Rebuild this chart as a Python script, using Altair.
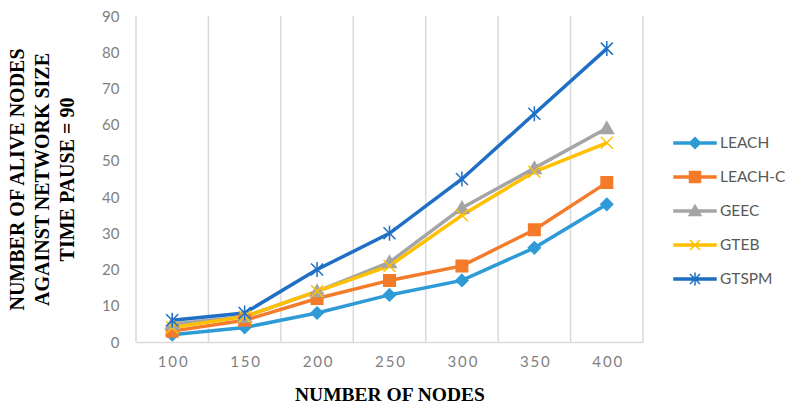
import altair as alt
import pandas as pd

# ---- data -------------------------------------------------------------
nodes = [100, 150, 200, 250, 300, 350, 400]
series = ["LEACH", "LEACH-C", "GEEC", "GTEB", "GTSPM"]
leach = [2, 4, 8, 13, 17, 26, 38]
leach_c = [3, 6, 12, 17, 21, 31, 44]
geec = [5, 7, 14, 22, 37, 48, 59]
gteb = [4, 7, 14, 21, 35, 47, 55]
gtspm = [6, 8, 20, 30, 45, 63, 81]
y_ticks = [0, 10, 20, 30, 40, 50, 60, 70, 80, 90]

colors = ["#2E9BD6", "#F47B2A", "#A5A5A5", "#FFC000", "#1F6FC5"]

# marker shapes (custom SVG paths)
marker_paths = [
    "M0,-1.2L1.2,0L0,1.2L-1.2,0Z",                          # diamond
    "M-1.15,-1.15L1.15,-1.15L1.15,1.15L-1.15,1.15Z",        # square
    "M0,-1.3L1.35,1.05L-1.35,1.05Z",                        # triangle
    "M-1.2,-1.2L1.2,1.2M-1.2,1.2L1.2,-1.2",                 # x
    "M-1.2,-1.2L1.2,1.2M-1.2,1.2L1.2,-1.2M0,-1.5L0,1.5",    # asterisk
]
legend_line = "M-2.1,-0.1L2.1,-0.1L2.1,0.1L-2.1,0.1Z"
legend_markers = [
    "M0,-0.55L0.55,0L0,0.55L-0.55,0Z",
    "M-0.55,-0.55L0.55,-0.55L0.55,0.55L-0.55,0.55Z",
    "M0,-0.6L0.6,0.45L-0.6,0.45Z",
    "M-0.5,-0.5L0.5,0.5M-0.5,0.5L0.5,-0.5",
    "M-0.5,-0.5L0.5,0.5M-0.5,0.5L0.5,-0.5M0,-0.65L0,0.65",
]
legend_paths = [legend_line + m for m in legend_markers]

values = [leach, leach_c, geec, gteb, gtspm]
rows = []
for s, vals in zip(series, values):
    for n, v in zip(nodes, vals):
        rows.append({"nodes": n, "alive": v, "series": s})
df = pd.DataFrame(rows)

step = nodes[1] - nodes[0]
bounds = [n - step / 2 for n in nodes] + [nodes[-1] + step / 2]
grid_df = pd.DataFrame({"b": bounds})

# ---- scales / axes ----------------------------------------------------
W, H = 507, 326
x_scale = alt.Scale(domain=[bounds[0], bounds[-1]], nice=False, zero=False)
y_scale = alt.Scale(domain=[0, 90], nice=False)

x_axis = alt.Axis(
    values=nodes, grid=False, ticks=False, domain=True,
    domainColor="#d9d9d9", domainWidth=1.5,
    labelFont="Lato", labelFontSize=15, labelColor="#7f7f7f", labelPadding=12,
    labelExpr="join(split(datum.label, ''), '\u2009')",
    title="NUMBER OF NODES", titleFont="Liberation Serif", titleFontSize=19.5,
    titleFontWeight="bold", titleColor="#000000", titleY=52, titleBaseline="middle",
)
y_axis = alt.Axis(
    values=y_ticks, grid=False, ticks=False, domain=False,
    labelFont="Lato", labelFontSize=15, labelColor="#7f7f7f", labelPadding=17,
    title=["NUMBER OF ALIVE NODES", "AGAINST NETWORK SIZE", "TIME PAUSE = 90"],
    titleFont="Liberation Serif", titleFontSize=20, titleFontWeight="bold",
    titleColor="#000000", titleLineHeight=25, titleX=-119, titleY=H / 2,
    titleBaseline="middle", titleAlign="center", titleAngle=270,
)

x_enc = alt.X("nodes:Q", scale=x_scale, axis=x_axis)
y_enc = alt.Y("alive:Q", scale=y_scale, axis=y_axis)

color_scale = alt.Scale(domain=series, range=colors)

grid = alt.Chart(grid_df).mark_rule(color="#d9d9d9", strokeWidth=1.5).encode(
    x=alt.X("b:Q", scale=x_scale, axis=x_axis)
)

lines = alt.Chart(df).mark_line(strokeWidth=3.5).encode(
    x=x_enc, y=y_enc,
    color=alt.Color("series:N", scale=color_scale, legend=None),
    detail="series:N",
)

points = alt.Chart(df).mark_point(filled=True, strokeWidth=1.5, size=100, opacity=1).encode(
    x=x_enc, y=y_enc,
    color=alt.Color("series:N", scale=color_scale, legend=None),
    stroke=alt.Stroke("series:N", scale=color_scale, legend=None),
    shape=alt.Shape("series:N", scale=alt.Scale(domain=series, range=marker_paths), legend=None),
)

leg = alt.Legend(
    title=None, orient="none", legendX=548, legendY=116,
    symbolSize=400, symbolStrokeWidth=1.5,
    labelFont="Lato", labelFontSize=15.5, labelColor="#595959",
    labelOffset=14, rowPadding=14, padding=0,
)

legend_layer = alt.Chart(df).transform_filter("false").mark_point(
    filled=True, strokeWidth=1.5, opacity=1
).encode(
    x=x_enc, y=y_enc,
    color=alt.Color("series:N", scale=color_scale, legend=leg),
    stroke=alt.Stroke("series:N", scale=color_scale, legend=leg),
    shape=alt.Shape("series:N", scale=alt.Scale(domain=series, range=legend_paths), legend=leg),
)

chart = alt.layer(grid, lines, points, legend_layer).resolve_scale(
    color="independent", stroke="independent", shape="independent"
).properties(
    width=W, height=H,
    autosize=alt.AutoSizeParams(type="none"),
    padding={"left": 128, "top": 8, "right": 143, "bottom": 62},
    background="white",
).configure_view(stroke=None)

chart.save("out.html", embed_options={"renderer": "svg", "actions": False})
